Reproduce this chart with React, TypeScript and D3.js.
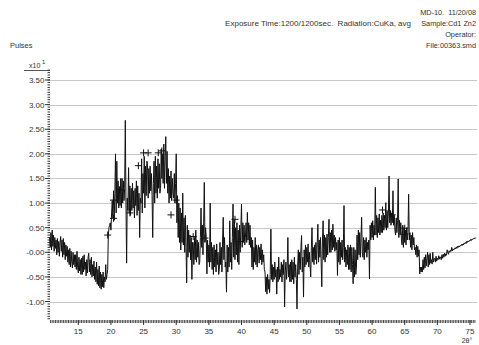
import React from "react";
import * as d3 from "d3";

const WIDTH = 479;
const HEIGHT = 345;

// Scan start and step (degrees 2θ)
const ANGLE_START = 10.6;
const ANGLE_STEP = 0.1;

// Intensity (pulses ×10¹), one value per scan step, ten steps per row
const pulses: number[] = [
  0.30, 0.10, 0.40, 0.05, 0.45, 0.12, 0.35, 0.02, 0.30, 0.08,
  0.25, -0.05, 0.28, 0.00, 0.22, -0.08, 0.20, 0.32, 0.02, 0.25,
  -0.10, 0.28, -0.05, 0.20, -0.15, 0.15, -0.08, 0.12, -0.20, 0.05,
  -0.25, 0.08, -0.30, 0.02, -0.20, -0.32, 0.00, -0.25, -0.05, -0.30,
  -0.05, -0.35, 0.02, -0.30, -0.42, -0.10, -0.38, -0.15, -0.45, -0.12,
  -0.45, -0.08, -0.40, -0.05, -0.35, -0.20, -0.48, -0.15, -0.42, -0.10,
  -0.02, -0.40, -0.15, -0.45, -0.10, -0.50, -0.25, -0.48, -0.18, -0.55,
  -0.30, -0.60, -0.20, -0.65, -0.35, -0.68, -0.28, -0.72, -0.40, -0.75,
  -0.45, -0.70, -0.40, -0.72, -0.50, -0.60, -0.25, -0.55, -0.45, -0.35,
  0.35, 0.50, 0.55, 0.60, 0.45, 0.80, 1.05, 0.70, 1.25, 0.65,
  1.20, 2.00, 0.80, 1.85, 1.00, 1.45, 0.90, 1.30, 0.95, 1.50,
  0.90, 1.50, 1.00, 1.45, 1.05, 1.30, 2.68, 1.00, -0.22, 1.10,
  0.85, 1.72, 0.80, 1.35, 0.75, 1.30, 0.85, 1.40, 0.90, 1.25,
  0.70, 1.30, 0.95, 1.45, 0.75, 1.35, 0.85, 1.20, 0.30, 1.10,
  1.00, 1.90, 0.80, 1.60, 1.20, 1.95, 0.90, 1.75, 1.15, 1.85,
  1.80, 1.10, 1.70, 1.20, 1.75, 1.25, 1.60, 1.15, 0.30, 1.40,
  1.85, 1.00, 1.95, 1.20, 1.75, 1.10, 1.90, 1.30, 1.80, 1.20,
  1.30, 2.10, 1.50, 2.00, 1.40, 2.20, 1.30, 1.95, 2.35, 1.40,
  2.05, 1.20, 1.70, 1.00, 1.55, 1.10, 1.65, 1.05, 1.50, 1.20,
  1.10, 1.60, 1.00, 1.40, 2.00, 0.60, 1.15, 0.30, 1.00, 0.20,
  0.90, 0.05, 0.80, 0.20, 1.20, 0.15, 0.70, 0.00, 0.75, 0.10,
  -0.62, 0.55, -0.10, 0.45, 0.00, 0.35, -0.15, 0.30, -0.55, 0.20,
  0.20, -0.25, 0.30, -0.15, 0.45, -0.20, 0.25, -0.10, 0.20, -0.25,
  -0.20, 0.30, 0.90, 0.10, 0.55, -0.05, 0.60, 1.42, 0.20, 0.50,
  0.30, -0.44, 0.25, -0.20, 0.15, -0.30, 1.00, -0.20, 0.20, -0.35,
  0.10, -0.45, 0.15, -0.30, 0.05, -0.40, 0.17, -0.25, 0.00, -0.45,
  -0.35, 0.20, -0.25, 0.10, -0.40, 0.25, 0.71, -0.15, 0.30, -0.30,
  -0.20, -0.81, 0.15, -0.40, 0.10, -0.30, 0.64, -0.20, 0.20, -0.35,
  0.30, 0.98, -0.10, 0.65, -0.15, 0.50, -0.05, 0.60, -0.20, 0.45,
  -0.25, 0.55, 0.00, 0.50, 0.98, 0.10, 0.60, 0.20, 0.55, 0.15,
  0.30, 0.60, 0.20, 0.81, 0.25, 0.60, 0.15, 0.55, 0.10, 0.30,
  -0.30, 0.25, -0.35, 0.10, -0.20, 0.30, -0.25, 0.15, -0.30, 0.05,
  0.15, -0.22, 0.10, -0.15, 0.17, -0.25, 0.05, -0.20, -0.05, -0.35,
  -0.40, -0.80, -0.50, -0.85, -0.45, -0.75, -0.55, -0.82, -0.45, 0.47,
  -0.55, -0.25, -0.60, -0.30, -0.55, -0.20, -0.50, -0.35, -0.85, -0.30,
  -0.60, -0.10, -0.55, -0.35, -0.50, -0.20, -0.60, -0.25, -0.45, -0.15,
  -1.11, -0.40, -0.20, -0.55, -0.30, 0.30, -0.50, -0.25, -0.60, -0.20,
  -0.60, -0.15, -0.55, -0.20, -0.64, -0.10, -0.50, -0.25, -0.55, -1.15,
  -0.30, 0.05, -0.45, 0.00, -0.35, 0.10, 0.34, -0.40, -0.10, -0.91,
  0.05, -0.30, 0.15, -0.25, 0.10, -0.20, 0.17, -0.30, 0.00, -0.25,
  -0.50, 0.10, 0.50, -0.20, 0.10, -0.25, 0.15, -0.15, 0.20, -0.24,
  0.20, 0.57, -0.20, 0.25, -0.10, 0.30, -0.20, -0.70, 0.25, 0.64,
  -0.15, 0.35, -0.20, 0.30, -0.10, 0.37, -0.05, 0.30, 0.67, 0.00,
  0.40, 0.00, 0.45, 0.05, 0.57, 0.10, 0.35, 0.02, 0.30, 0.05,
  0.20, -0.47, 0.25, -0.20, 0.30, -0.25, 0.20, -0.10, 0.25, -0.15,
  0.10, 0.95, -0.20, 0.10, -0.30, 0.05, -0.25, 0.15, -0.35, 0.10,
  -0.35, 0.15, -0.40, 0.10, -0.25, -0.64, 0.10, -0.50, 0.05, -0.45,
  -0.30, 0.35, -0.15, 0.45, -0.05, 0.40, -0.10, 0.30, 0.71, 0.00,
  -0.10, 0.30, -0.15, 0.25, 0.00, 0.30, -0.10, 0.20, 0.05, 0.25,
  -0.54, 0.55, 0.25, 0.60, 0.30, 0.64, 0.25, 0.55, 0.35, 1.32,
  0.35, 0.75, 0.30, 0.70, 0.40, 0.78, 0.35, 0.65, 0.40, 0.75,
  0.40, 0.80, 0.45, 0.75, 0.50, 1.01, 0.45, 0.85, 0.50, 0.80,
  1.55, 0.60, 0.85, 0.55, 0.80, 0.60, 1.25, 0.55, 0.75, 0.45,
  0.35, 0.70, 0.40, 0.65, 1.49, 0.30, 0.65, 0.35, 0.60, 0.25,
  0.15, 0.55, 0.10, 0.50, 0.20, 0.45, 0.15, 0.50, 0.25, 0.40,
  1.18, 0.25, 0.40, 0.10, 0.35, 0.05, 0.40, 0.15, 0.30, 0.05,
  0.10, -0.05, 0.15, -0.10, 0.12, -0.08, 0.05, -0.44, -0.30, -0.40,
  -0.30, -0.40, -0.15, -0.35, -0.10, -0.32, -0.05, -0.28, -0.12, 0.00,
  -0.30, -0.05, -0.25, -0.02, -0.22, -0.15, -0.24, 0.00, -0.20, -0.14,
  -0.12, -0.20, -0.08, -0.18, -0.12, -0.15, -0.07, -0.14, -0.09, -0.12,
  -0.15, -0.05, -0.12, -0.04, -0.10, -0.02, -0.08, -0.03, -0.06, 0.05,
  0.00, -0.04, 0.03, 0.00, 0.04, 0.02, 0.10, 0.03, 0.07, 0.05,
  0.06, 0.09, 0.07, 0.11, 0.08, 0.12, 0.10, 0.13, 0.11, 0.14,
  0.13, 0.16, 0.14, 0.17, 0.15, 0.19, 0.17, 0.20, 0.18, 0.22,
  0.20, 0.23, 0.21, 0.24, 0.23, 0.26, 0.24, 0.27, 0.26, 0.28,
  0.27, 0.29, 0.28, 0.30,
];

// Peak search marks: 2θ and intensity
const peakAngles = [19.5, 20.4, 20.4, 21.3, 22.9, 24.2, 25.0, 25.7, 27.25, 27.8, 29.2, 30.0, 32.6, 34.4, 39.0, 39.8, 61.6, 63.1, 65.0, 65.0];
const peakLevels = [0.35, 1.06, 0.69, 1.27, 0.80, 1.76, 2.02, 2.02, 2.02, 2.06, 0.76, 1.06, 0.32, 0.29, 0.67, 0.22, 0.86, 0.76, 0.49, 0.37];

const yTickValues = [3.5, 3.0, 2.5, 2.0, 1.5, 1.0, 0.5, 0.0, -0.5, -1.0];
const yTickLabels = ["3.50", "3.00", "2.50", "2.00", "1.50", "1.00", "0.50", "-0.00", "-0.50", "-1.00"];
const xTickValues = [15, 20, 25, 30, 35, 40, 45, 50, 55, 60, 65, 70, 75];

const headerRight = ["MD-10.  11/20/08", "Sample:Cd1 Zn2", "Operator:", "File:00363.smd"];
const exposureText = "Exposure Time:1200/1200sec.  Radiation:CuKa, avg";

const FONT = "'Liberation Sans', Arial, sans-serif";
const TEXT = "#333";
const GRID = "#c8c8c8";

export default function App() {
  const plotLeft = 50;
  const plotRight = 477;
  const x = d3.scaleLinear().domain([15, 75]).range([78.3, 470]);
  const y = d3.scaleLinear().domain([0, 3.5]).range([252.3, 80]);

  const points: [number, number][] = pulses.map((v, i) => [ANGLE_START + i * ANGLE_STEP, v]);
  const line = d3
    .line<[number, number]>()
    .x((d) => x(d[0]))
    .y((d) => y(d[1]));

  const yMinor = d3.range(-27, 75).map((k) => k * 0.05);
  const xMinor = d3.range(43, 304).map((k) => k * 0.25);

  return (
    <svg
      width={WIDTH}
      height={HEIGHT}
      style={{ position: "absolute", left: 0, top: 0, background: "#fff" }}
      fontFamily={FONT}
    >
      <rect width={WIDTH} height={HEIGHT} fill="#fff" />

      {/* header */}
      {headerRight.map((t, i) => (
        <text
          key={t}
          x={476}
          y={15 + i * 11}
          fontSize={7.3}
          fill={TEXT}
          textAnchor="end"
          style={{ whiteSpace: "pre" }}
        >
          {t}
        </text>
      ))}
      <text x={411} y={26} fontSize={8} fill={TEXT} textAnchor="end" style={{ whiteSpace: "pre" }}>
        {exposureText}
      </text>
      <text x={10} y={48} fontSize={7.5} fill={TEXT}>
        Pulses
      </text>

      {/* y scale factor */}
      <text x={29} y={68} fontSize={7} fill={TEXT}>
        x10
      </text>
      <text x={42} y={64} fontSize={6} fill={TEXT}>
        1
      </text>
      <line x1={24} x2={50} y1={70.5} y2={70.5} stroke="#555" strokeWidth={1} />

      {/* grid */}
      {yTickValues.map((v) => (
        <line
          key={"g" + v}
          x1={plotLeft}
          x2={plotRight}
          y1={Math.round(y(v)) + 0.5}
          y2={Math.round(y(v)) + 0.5}
          stroke={GRID}
          strokeWidth={1}
        />
      ))}

      {/* y axis ticks */}
      {yMinor.map((v) => (
        <line
          key={"ym" + v.toFixed(2)}
          x1={47.5}
          x2={50}
          y1={y(v)}
          y2={y(v)}
          stroke="#333"
          strokeWidth={1}
        />
      ))}
      {yTickValues.map((v, i) => (
        <g key={"yt" + v}>
          <line x1={45} x2={50} y1={y(v)} y2={y(v)} stroke="#333" strokeWidth={1} />
          <text x={44.5} y={y(v) + 3} fontSize={8} fill={TEXT} textAnchor="end">
            {yTickLabels[i]}
          </text>
        </g>
      ))}

      {/* x axis ticks */}
      {xMinor.map((v) => (
        <line
          key={"xm" + v}
          x1={x(v)}
          x2={x(v)}
          y1={320}
          y2={323}
          stroke="#333"
          strokeWidth={0.9}
        />
      ))}
      {xTickValues.map((v) => (
        <g key={"xt" + v}>
          <line x1={x(v)} x2={x(v)} y1={320} y2={325} stroke="#333" strokeWidth={1} />
          <text x={x(v)} y={334} fontSize={8} fill={TEXT} textAnchor="middle">
            {v}
          </text>
        </g>
      ))}
      <text x={467} y={343} fontSize={7} fill={TEXT} textAnchor="middle">
        2θ°
      </text>

      {/* pattern */}
      <path d={line(points) ?? ""} fill="none" stroke="#111" strokeWidth={1} strokeLinejoin="miter" />

      {/* peak marks */}
      {peakAngles.map((a, i) => {
        const cx = x(a);
        const cy = y(peakLevels[i]);
        return (
          <g key={"pk" + i} stroke="#111" strokeWidth={1}>
            <line x1={cx - 3.5} x2={cx + 3.5} y1={cy} y2={cy} />
            <line x1={cx} x2={cx} y1={cy - 3.5} y2={cy + 3.5} />
          </g>
        );
      })}
    </svg>
  );
}
